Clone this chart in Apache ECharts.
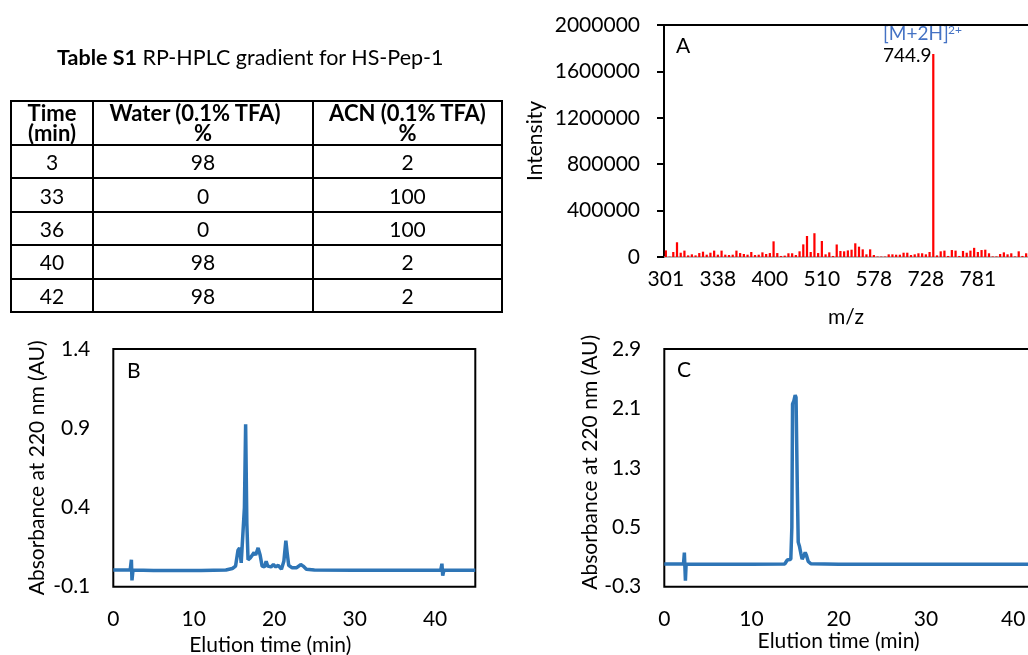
<!DOCTYPE html>
<html>
<head>
<meta charset="utf-8">
<script src="https://cdn.jsdelivr.net/npm/echarts@6/dist/echarts.min.js"></script>
<style>
  html, body { margin: 0; padding: 0; background: #fff; }
  #wrap { position: relative; width: 1028px; height: 655px; overflow: hidden; background: #fff; }
  #chart { position: absolute; left: 0; top: 0; width: 1028px; height: 655px; }
  #title { position: absolute; left: 57px; top: 44px; font-family: Lato, sans-serif; font-size: 21.5px; color: #000; white-space: nowrap; }
  #tbl { position: absolute; left: 10px; top: 100px; border-collapse: collapse; font-family: Lato, sans-serif; color: #000; table-layout: fixed; }
  #tbl td, #tbl th { border: 2px solid #000; text-align: center; padding: 0; font-size: 21px; }
  #tbl th { font-weight: bold; font-size: 22px; line-height: 20px; vertical-align: middle; }
</style>
</head>
<body>
<div id="wrap">
  <div id="chart"></div>
  <div id="title"><b>Table S1</b> RP-HPLC gradient for HS-Pep-1</div>
  <table id="tbl"></table>
</div>
<script>
// ---- Table S1 data ----
const tableHeader = [['Time', '(min)'], ['Water (0.1% TFA)', '%'], ['ACN (0.1% TFA)', '%']];
const gradTime = [3, 33, 36, 40, 42];
const gradWater = [98, 0, 0, 98, 98];
const gradACN = [2, 100, 100, 2, 2];

// ---- Panel A: mass spectrum ----
const mzTickLabels = ['301', '338', '400', '510', '578', '728', '781'];
const msIntensity = [
  57000, 3000, 43000, 127000, 37000, 55000, 14000, 23000, 14000, 34000,
  46000, 20000, 37000, 55000, 20000, 55000, 20000, 17000, 20000, 55000,
  34000, 26000, 20000, 43000, 17000, 20000, 40000, 26000, 34000, 135000,
  34000, 9000, 12000, 32000, 32000, 17000, 49000, 109000, 181000, 43000,
  205000, 34000, 138000, 23000, 40000, 9000, 108000, 52000, 49000, 57000,
  63000, 118000, 89000, 66000, 23000, 66000, 17000, 4000, 4000, 4000,
  23000, 23000, 20000, 20000, 37000, 37000, 17000, 23000, 32000, 32000,
  23000, 43000, 1750000, 14000, 49000, 55000, 9000, 60000, 55000, 9000,
  52000, 37000, 55000, 79000, 43000, 60000, 63000, 32000, 5000, 5000,
  26000, 40000, 23000, 32000, 5000, 49000, 9000, 32000
];
const peakLabel = '744.9';
const peakIon = '[M+2H]';
const peakCharge = '2+';

// ---- Panel B: HPLC crude ----
const bTime = [0, 2.1, 2.25, 2.32, 2.45, 5, 10.5, 10.7, 10.9, 14, 14.8, 15.2, 15.5, 15.7, 15.9, 16.1, 16.3, 16.45, 16.6, 16.75,
  17.0, 17.2, 17.5, 17.7, 18.0, 18.25, 18.5, 18.8, 19.0, 19.2, 19.6, 19.9, 20.2, 20.5, 20.9, 21.2, 21.45, 21.6, 21.8, 22.2,
  22.8, 23.3, 23.6, 24.0, 25, 29.8, 30.0, 30.3, 40.7, 40.85, 40.95, 41.1, 45];
const bAbs = [0.005, 0.005, 0.07, -0.06, 0.005, 0.003, 0.003, 0.012, 0.003, 0.005, 0.015, 0.03, 0.13, 0.145, 0.05, 0.06, 0.4, 0.925, 0.3, 0.07,
  0.08, 0.07, 0.115, 0.1, 0.145, 0.1, 0.03, 0.025, 0.06, 0.03, 0.025, 0.04, 0.025, 0.035, 0.01, 0.06, 0.19, 0.12, 0.035, 0.02,
  0.02, 0.04, 0.03, 0.01, 0.005, 0.004, 0.012, 0.004, 0.004, 0.045, -0.03, 0.005, 0.004];

// ---- Panel C: HPLC purified ----
const cTime = [0, 2.2, 2.3, 2.42, 2.5, 10, 13.8, 14.1, 14.3, 14.5, 14.62, 14.7, 14.85, 15.0, 15.1, 15.25, 15.35, 15.5, 15.65, 15.8,
  16.0, 16.15, 16.3, 16.5, 16.8, 20, 27.9, 28.0, 28.2, 38.8, 39.0, 39.2, 45];
const cAbs = [0.005, 0.005, 0.16, -0.22, 0.005, 0.003, 0.005, 0.06, 0.085, 0.07, 0.5, 2.16, 2.2, 2.28, 2.25, 1.0, 0.3, 0.24, 0.15, 0.07,
  0.12, 0.16, 0.12, 0.04, 0.008, 0.003, 0.003, 0.018, 0.003, 0.003, 0.018, 0.003, 0.003];

// ---- build table ----
(function () {
  const t = document.getElementById('tbl');
  const widths = [82, 220, 189];
  let html = '<colgroup>' + widths.map(w => '<col style="width:' + w + 'px">').join('') + '</colgroup>';
  html += '<tr style="height:44px">' + tableHeader.map((h, i) =>
    '<th' + (i === 1 ? ' style="padding-right:16px"' : '') + '>' + h[0] + '<br>' + (i === 1 ? '<span style="padding-left:16px">' + h[1] + '</span>' : h[1]) + '</th>').join('') + '</tr>';
  for (let i = 0; i < gradTime.length; i++) {
    html += '<tr style="height:33.4px"><td>' + gradTime[i] + '</td><td>' + gradWater[i] + '</td><td>' + gradACN[i] + '</td></tr>';
  }
  t.innerHTML = html;
})();

const FONT = 'Lato, sans-serif';
const BLUE = '#2E75B6';
const zip = (a, b) => a.map((v, i) => [v, b[i]]);

const chart = echarts.init(document.getElementById('chart'), null, { renderer: 'canvas' });
const lbl = { color: '#000', fontSize: 21, fontFamily: FONT };

const option = {
  backgroundColor: 'transparent',
  animation: false,
  grid: [
    { left: 664, top: 25, width: 364, height: 232, containLabel: false, outerBoundsMode: 'none' },
    { left: 113.3, top: 349, width: 362, height: 237.7, show: true, borderColor: '#000', borderWidth: 2, containLabel: false, outerBoundsMode: 'none' },
    { left: 664.3, top: 349, width: 392.6, height: 237.7, show: true, borderColor: '#000', borderWidth: 2, containLabel: false, outerBoundsMode: 'none' }
  ],
  xAxis: [
    {
      gridIndex: 0, type: 'category', data: msIntensity.map((_, i) => String(i)),
      axisLine: { show: true, lineStyle: { color: '#A6A6A6', width: 1.5 } },
      axisTick: { show: false },
      axisLabel: Object.assign({}, lbl, { interval: 13, margin: 12, formatter: (v, i) => (i % 14 === 0 ? (mzTickLabels[i / 14] || '') : '') }),
      name: 'm/z', nameLocation: 'middle', nameGap: 50, nameTextStyle: lbl
    },
    {
      gridIndex: 0, type: 'category', position: 'top', data: msIntensity.map((_, i) => String(i)),
      axisLine: { show: true, lineStyle: { color: '#000', width: 2 } },
      axisTick: { show: false }, axisLabel: { show: false }
    },
    {
      gridIndex: 1, type: 'value', min: 0, max: 45, interval: 10,
      axisLine: { show: false }, axisTick: { show: false }, splitLine: { show: false },
      axisLabel: Object.assign({}, lbl, { margin: 22, showMaxLabel: false }),
      name: 'Elution time (min)', nameLocation: 'middle', nameGap: 48,
      nameTextStyle: Object.assign({}, lbl, { padding: [0, 48, 0, 0] })
    },
    {
      gridIndex: 2, type: 'value', min: 0, max: 45, interval: 10,
      axisLine: { show: false }, axisTick: { show: false }, splitLine: { show: false },
      axisLabel: Object.assign({}, lbl, { margin: 22, showMaxLabel: false }),
      name: 'Elution time (min)', nameLocation: 'middle', nameGap: 41,
      nameTextStyle: Object.assign({}, lbl, { padding: [0, 44, 0, 0] })
    }
  ],
  yAxis: [
    {
      gridIndex: 0, type: 'value', min: 0, max: 2000000, interval: 400000,
      axisLine: { show: true, lineStyle: { color: '#000', width: 2 } },
      axisTick: { show: true, length: 7, lineStyle: { color: '#000', width: 2 } },
      splitLine: { show: false },
      axisLabel: Object.assign({}, lbl, { margin: 24, formatter: v => String(v) }),
      name: 'Intensity', nameLocation: 'middle', nameGap: 118, nameTextStyle: lbl
    },
    {
      gridIndex: 1, type: 'value', min: -0.1, max: 1.4, interval: 0.5,
      axisLine: { show: false }, axisTick: { show: false }, splitLine: { show: false },
      axisLabel: Object.assign({}, lbl, { margin: 23 }),
      name: 'Absorbance at 220 nm (AU)', nameLocation: 'middle', nameGap: 66, nameTextStyle: lbl
    },
    {
      gridIndex: 2, type: 'value', min: -0.3, max: 2.9, interval: 0.8,
      axisLine: { show: false }, axisTick: { show: false }, splitLine: { show: false },
      axisLabel: Object.assign({}, lbl, { margin: 23 }),
      name: 'Absorbance at 220 nm (AU)', nameLocation: 'middle', nameGap: 55,
      nameTextStyle: Object.assign({}, lbl, { padding: [0, 0, 0, 11] })
    }
  ],
  series: [
    {
      type: 'bar', xAxisIndex: 0, yAxisIndex: 0, data: msIntensity,
      barWidth: '60%', itemStyle: { color: '#FF0000' }, silent: true
    },
    {
      type: 'line', xAxisIndex: 2, yAxisIndex: 1, data: zip(bTime, bAbs),
      showSymbol: false, lineStyle: { color: BLUE, width: 3.5 }, itemStyle: { color: BLUE }, silent: true
    },
    {
      type: 'line', xAxisIndex: 3, yAxisIndex: 2, data: zip(cTime, cAbs),
      showSymbol: false, lineStyle: { color: BLUE, width: 3.5 }, itemStyle: { color: BLUE }, silent: true
    }
  ],
  graphic: [
    { type: 'text', left: 676, top: 36, style: { text: 'A', fill: '#000', font: '21px ' + FONT } },
    { type: 'text', left: 127, top: 361, style: { text: 'B', fill: '#000', font: '21px ' + FONT } },
    { type: 'text', left: 677, top: 360, style: { text: 'C', fill: '#000', font: '21px ' + FONT } },
    { type: 'text', left: 883, top: 24, style: { text: peakIon, fill: '#4472C4', font: '19px ' + FONT } },
    { type: 'text', left: 948, top: 24, style: { text: peakCharge, fill: '#4472C4', font: '12px ' + FONT } },
    { type: 'text', left: 883, top: 46, style: { text: peakLabel, fill: '#000', font: '19px ' + FONT } }
  ]
};
chart.setOption(option);
</script>
</body>
</html>
